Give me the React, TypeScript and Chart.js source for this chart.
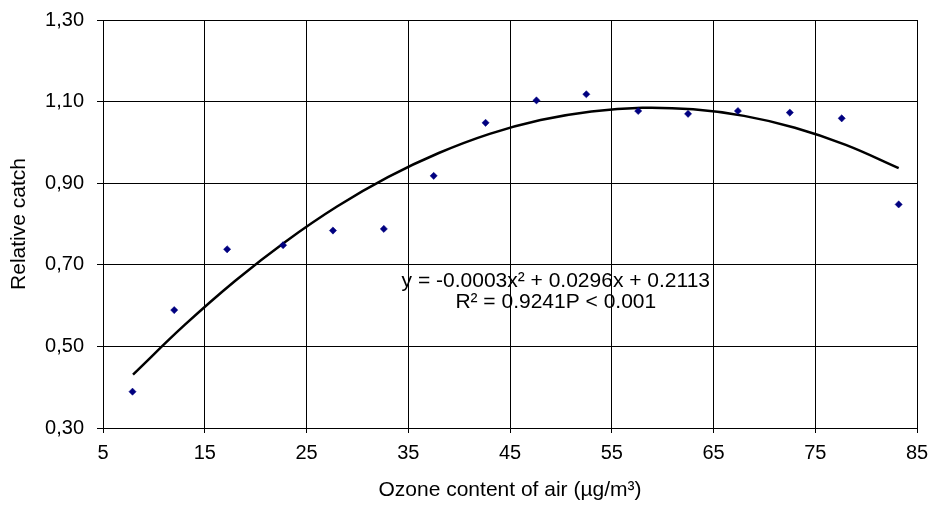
import React, { useEffect, useRef } from "react";
import { Chart, registerables } from "chart.js";

Chart.register(...registerables);

const ozoneValues = [7.9, 12, 17.2, 22.7, 27.6, 32.6, 37.5, 42.6, 47.6, 52.5, 57.6, 62.5, 67.4, 72.5, 77.6, 83.2];
const catchValues = [0.389, 0.589, 0.738, 0.748, 0.784, 0.788, 0.918, 1.048, 1.103, 1.118, 1.077, 1.07, 1.077, 1.073, 1.059, 0.848];

const trendX = [7.95, 13, 18, 23, 28, 33, 38, 43, 48, 53, 58, 63, 68, 73, 78, 83.2];
const trendY = [0.431, 0.552, 0.661, 0.758, 0.843, 0.915, 0.974, 1.021, 1.055, 1.076, 1.085, 1.081, 1.065, 1.036, 0.994, 0.937];

const equationLines = ["y = -0.0003x\u00b2 + 0.0296x + 0.2113", "R\u00b2 = 0.9241P < 0.001"];
const equationAnchor = { x: 49.5, y: 0.66 };

const xTitle = "Ozone content of air (\u00b5g/m\u00b3)";
const yTitle = "Relative catch";

const FONT = '"Liberation Sans", Arial, sans-serif';

const equationPlugin = {
  id: "equationText",
  afterDatasetsDraw(chart: any) {
    const { ctx, scales } = chart;
    const px = scales.x.getPixelForValue(equationAnchor.x);
    const py = scales.y.getPixelForValue(equationAnchor.y);
    ctx.save();
    ctx.font = `21px ${FONT}`;
    ctx.fillStyle = "#000";
    ctx.textAlign = "center";
    ctx.textBaseline = "middle";
    equationLines.forEach((line, i) => ctx.fillText(line, px, py + i * 21));
    ctx.restore();
  },
};

export default function App() {
  const ref = useRef<HTMLCanvasElement | null>(null);
  useEffect(() => {
    if (!ref.current) return;
    const chart = new Chart(ref.current, {
      type: "scatter",
      data: {
        datasets: [
          {
            label: "Relative catch",
            data: ozoneValues.map((x, i) => ({ x, y: catchValues[i] })),
            pointStyle: "rectRot",
            pointRadius: 3.6,
            pointBackgroundColor: "#000080",
            pointBorderColor: "#000080",
            pointBorderWidth: 0.5,
            showLine: false,
          },
          {
            label: "Trend",
            data: trendX.map((x, i) => ({ x, y: trendY[i] })),
            showLine: true,
            pointRadius: 0,
            borderColor: "#000",
            borderWidth: 2.5,
            tension: 0.4,
            fill: false,
          },
        ],
      },
      options: {
        animation: false,
        responsive: false,
        layout: { autoPadding: false, padding: { top: 20, right: 15, left: 0, bottom: 0 } },
        plugins: { legend: { display: false }, tooltip: { enabled: false } },
        scales: {
          x: {
            type: "linear",
            min: 5,
            max: 85,
            afterFit: (s: any) => {
              s.height = 80;
              s.paddingLeft = 0;
              s.paddingRight = 0;
            },
            ticks: { stepSize: 10, color: "#000", padding: 8, font: { family: FONT, size: 20 } },
            grid: { color: "#000", lineWidth: 1, tickLength: 5, tickColor: "#000" },
            border: { color: "#000", width: 1 },
            title: { display: true, text: xTitle, color: "#000", font: { family: FONT, size: 21 }, padding: { top: 0, bottom: 5 } },
          },
          y: {
            type: "linear",
            min: 0.3,
            max: 1.3,
            afterFit: (s: any) => {
              s.width = 103;
              s.paddingTop = 0;
              s.paddingBottom = 0;
            },
            ticks: {
              stepSize: 0.2,
              color: "#000",
              padding: 13,
              font: { family: FONT, size: 20 },
              callback: (v: any) => Number(v).toFixed(2).replace(".", ","),
            },
            grid: { color: "#000", lineWidth: 1, tickLength: 6, tickColor: "#000" },
            border: { color: "#000", width: 1 },
            title: { display: true, text: yTitle, color: "#000", font: { family: FONT, size: 21 }, padding: { top: 7, bottom: 0 } },
          },
        },
      },
      plugins: [equationPlugin],
    });
    return () => chart.destroy();
  }, []);
  return (
    <div style={{ position: "absolute", left: 0, top: 0, width: 932, height: 508, background: "#fff" }}>
      <canvas ref={ref} width={932} height={508} style={{ display: "block" }} />
    </div>
  );
}
